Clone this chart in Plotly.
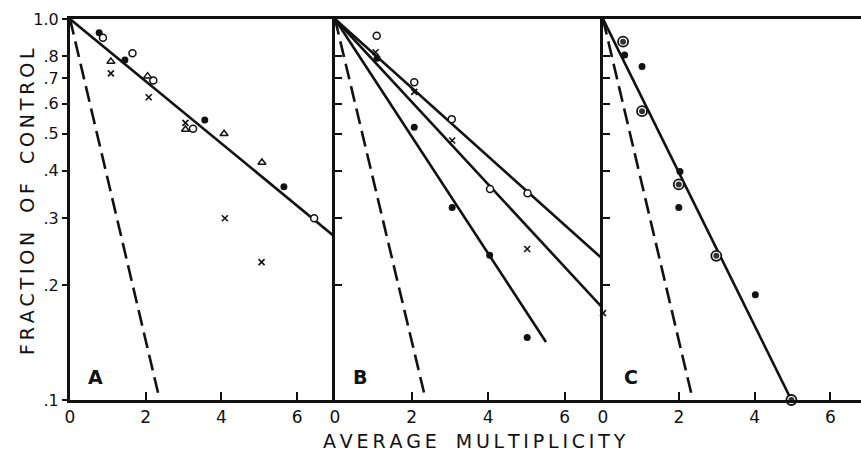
import plotly.graph_objects as go

# ---- Panel A ----
a_filled_x = [0.77, 1.45, 3.56, 5.65]
a_filled_y = [0.92, 0.78, 0.543, 0.363]
a_open_x = [0.87, 1.65, 2.2, 3.25, 6.45]
a_open_y = [0.893, 0.813, 0.69, 0.515, 0.30]
a_tri_x = [1.08, 2.05, 3.05, 4.07, 5.07]
a_tri_y = [0.773, 0.708, 0.513, 0.50, 0.42]
a_cross_x = [1.08, 2.08, 3.05, 4.09, 5.06]
a_cross_y = [0.72, 0.623, 0.534, 0.30, 0.23]
a_fit_x = [0, 7]
a_fit_y = [1.0, 0.268]

# ---- Panel B ----
b_open_x = [1.09, 2.07, 3.05, 4.05, 5.03]
b_open_y = [0.904, 0.682, 0.546, 0.358, 0.349]
b_cross_x = [1.06, 2.07, 3.06, 5.02, 7.0]
b_cross_y = [0.818, 0.644, 0.48, 0.249, 0.169]
b_filled_x = [1.1, 2.07, 3.06, 4.04, 5.02]
b_filled_y = [0.789, 0.52, 0.32, 0.24, 0.146]
b_fit_open_x = [0, 7]
b_fit_open_y = [1.0, 0.234]
b_fit_cross_x = [0, 7]
b_fit_cross_y = [1.0, 0.174]
b_fit_filled_x = [0, 5.51]
b_fit_filled_y = [1.0, 0.142]

# ---- Panel C ----
c_filled_x = [0.57, 1.03, 2.03, 2.0, 4.02]
c_filled_y = [0.804, 0.75, 0.398, 0.32, 0.189]
c_ring_x = [0.53, 1.03, 2.0, 2.99, 4.97]
c_ring_y = [0.872, 0.573, 0.368, 0.239, 0.1]
c_fit_x = [0, 4.97]
c_fit_y = [1.0, 0.1]

# dashed reference line repeated in every panel
dash_x = [0, 2.33]
dash_y = [1.0, 0.104]

y_tickvals = [1.0, 0.8, 0.7, 0.6, 0.5, 0.4, 0.3, 0.2, 0.1]
y_ticktext = ["1.0", ".8", ".7", ".6", ".5", ".4", ".3", ".2", ".1"]
x_tickvals = [0, 2, 4, 6]
x_ticktext = ["0", "2", "4", "6"]
panel_labels = ["A", "B", "C"]

INK = "#111111"
FONT = "DejaVu Sans"

fig = go.Figure()


def pts(x, y, ax, symbol, size, fill=INK, lw=0.0):
    fig.add_trace(go.Scatter(
        x=x, y=y, mode="markers", xaxis=ax[0], yaxis=ax[1], cliponaxis=False,
        marker=dict(symbol=symbol, size=size, color=fill,
                    line=dict(color=INK, width=lw)),
        showlegend=False, hoverinfo="skip"))


def line(x, y, ax, dash="solid"):
    fig.add_trace(go.Scatter(
        x=x, y=y, mode="lines", xaxis=ax[0], yaxis=ax[1],
        line=dict(color=INK, width=2.6, dash=dash),
        showlegend=False, hoverinfo="skip"))


DASH = "16px,7px"
A = ("x", "y")
B = ("x2", "y2")
C = ("x3", "y3")

# Panel A
line(a_fit_x, a_fit_y, A)
line(dash_x, dash_y, A, DASH)
pts(a_filled_x, a_filled_y, A, "circle", 7)
pts(a_open_x, a_open_y, A, "circle", 7, fill="white", lw=1.5)
pts(a_tri_x, a_tri_y, A, "triangle-up", 7, fill="white", lw=1.5)
pts(a_cross_x, a_cross_y, A, "x-thin", 6, lw=1.6)

# Panel B
line(b_fit_open_x, b_fit_open_y, B)
line(b_fit_cross_x, b_fit_cross_y, B)
line(b_fit_filled_x, b_fit_filled_y, B)
line(dash_x, dash_y, B, DASH)
pts(b_filled_x, b_filled_y, B, "circle", 7)
pts(b_open_x, b_open_y, B, "circle", 7, fill="white", lw=1.5)
pts(b_cross_x, b_cross_y, B, "x-thin", 6, lw=1.6)

# Panel C: plain dots, and ringed dots (outer ring + solid core)
line(c_fit_x, c_fit_y, C)
line(dash_x, dash_y, C, DASH)
pts(c_filled_x, c_filled_y, C, "circle", 7)
pts(c_ring_x, c_ring_y, C, "circle", 10, fill="white", lw=1.8)
pts(c_ring_x, c_ring_y, C, "circle", 6, fill="#333333")

W, H = 861, 455
ML, MR, MT, MB = 70, 0, 19, 55
pw = W - ML - MR
px_per_unit = 37.9
dA = (0, 265 / pw)
dB = (265 / pw, 533 / pw)
dC = (533 / pw, 1.0)
c_max = (pw - 533) / px_per_unit

xcommon = dict(showline=True, linecolor=INK, linewidth=3, mirror=True,
               ticks="inside", ticklen=8, tickwidth=2, tickcolor=INK,
               tickvals=x_tickvals, ticktext=x_ticktext,
               tickfont=dict(family=FONT, size=17, color=INK),
               showgrid=False, zeroline=False, fixedrange=True)
ycommon = dict(type="log", range=[-1, 0], showline=True, linecolor=INK,
               linewidth=3, tickvals=y_tickvals, ticktext=y_ticktext,
               tickwidth=2, tickcolor=INK, showgrid=False, zeroline=False,
               fixedrange=True)

fig.update_layout(
    width=W, height=H,
    margin=dict(l=ML, r=MR, t=MT, b=MB),
    paper_bgcolor="white", plot_bgcolor="white",
    xaxis=dict(domain=dA, range=[0, 7], anchor="y", **xcommon),
    xaxis2=dict(domain=dB, range=[0, 7], anchor="y2", **xcommon),
    xaxis3=dict(domain=dC, range=[0, c_max], anchor="y3", **xcommon),
    yaxis=dict(anchor="x", ticks="outside", ticklen=5,
               tickfont=dict(family=FONT, size=16, color=INK), **ycommon),
    yaxis2=dict(anchor="x2", ticks="inside", ticklen=7, showticklabels=False,
                **ycommon),
    yaxis3=dict(anchor="x3", ticks="inside", ticklen=7, showticklabels=False,
                **ycommon),
)

# panel letters
for lab, ax in zip(panel_labels, ["x", "x2", "x3"]):
    yax = "y" if ax == "x" else "y" + ax[1:]
    fig.add_annotation(text="<b>" + lab + "</b>", xref=ax + " domain",
                       yref=yax + " domain",
                       x=0.06 if ax != "x3" else 0.075, y=0.06,
                       showarrow=False, xanchor="left", yanchor="middle",
                       font=dict(family=FONT, size=19, color=INK))

ts = "\u2009"
xt = ts.join("AVERAGE") + "\u2003" + ts.join("MULTIPLICITY")
yt = ts.join("FRACTION") + "\u2003" + ts.join("OF") + "\u2003" + ts.join("CONTROL")
fig.add_annotation(text=xt, xref="paper", yref="paper",
                   x=(474 - ML) / pw, y=-(441 - 400) / (H - MT - MB),
                   showarrow=False, xanchor="center", yanchor="middle",
                   font=dict(family=FONT, size=19, color=INK))
fig.add_annotation(text=yt, xref="paper", yref="paper", textangle=-90,
                   x=(27 - ML) / pw, y=(400 - 202) / (H - MT - MB),
                   showarrow=False, xanchor="center", yanchor="middle",
                   font=dict(family=FONT, size=19, color=INK))

fig.write_html("out.html")
